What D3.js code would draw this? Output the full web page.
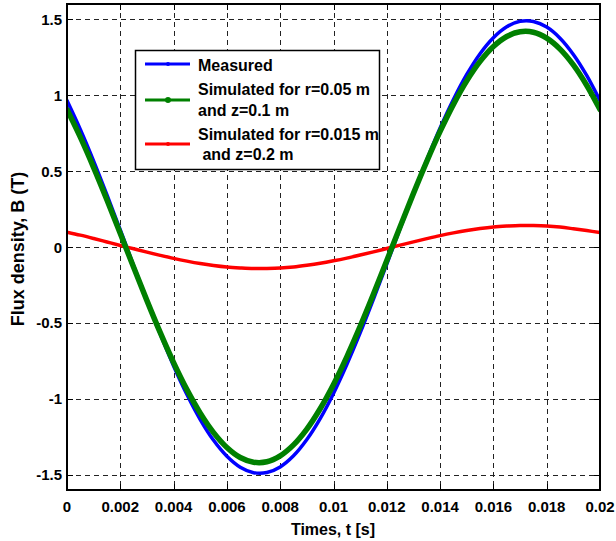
<!DOCTYPE html>
<html>
<head>
<meta charset="utf-8">
<script src="https://cdn.jsdelivr.net/npm/d3@7"></script>
<style>
  html, body { margin: 0; padding: 0; background: #fff; }
  svg { display: block; }
  text { font-family: "Liberation Sans", Arial, sans-serif; font-weight: bold; fill: #000; }
</style>
</head>
<body>
<svg id="chart" width="616" height="541"></svg>
<script>
// Sample times (s)
const times = [
  0, 0.0005, 0.001, 0.0015, 0.002, 0.0025, 0.003, 0.0035, 0.004, 0.0045,
  0.005, 0.0055, 0.006, 0.0065, 0.007, 0.0075, 0.008, 0.0085, 0.009, 0.0095,
  0.01, 0.0105, 0.011, 0.0115, 0.012, 0.0125, 0.013, 0.0135, 0.014, 0.0145,
  0.015, 0.0155, 0.016, 0.0165, 0.017, 0.0175, 0.018, 0.0185, 0.019, 0.0195, 0.02
];

// Measured flux density (T)
const measured = [
  0.964, 0.774, 0.566, 0.343, 0.112, -0.122, -0.352, -0.574, -0.783, -0.971,
  -1.136, -1.273, -1.378, -1.450, -1.486, -1.485, -1.448, -1.375, -1.268, -1.130,
  -0.964, -0.774, -0.566, -0.343, -0.112, 0.122, 0.352, 0.574, 0.783, 0.971,
  1.136, 1.273, 1.378, 1.450, 1.486, 1.485, 1.448, 1.375, 1.268, 1.130, 0.964
];

// Simulated, r = 0.05 m, z = 0.1 m
const simNear = [
  0.905, 0.723, 0.523, 0.310, 0.089, -0.134, -0.353, -0.564, -0.761, -0.939,
  -1.094, -1.222, -1.320, -1.386, -1.417, -1.414, -1.375, -1.303, -1.199, -1.065,
  -0.905, -0.723, -0.523, -0.310, -0.089, 0.134, 0.353, 0.564, 0.761, 0.939,
  1.094, 1.222, 1.320, 1.386, 1.417, 1.414, 1.375, 1.303, 1.199, 1.065, 0.905
];

// Simulated, r = 0.015 m, z = 0.2 m
const simFar = [
  0.098, 0.078, 0.056, 0.033, 0.010, -0.012, -0.034, -0.055, -0.075, -0.093,
  -0.109, -0.122, -0.132, -0.138, -0.142, -0.141, -0.138, -0.131, -0.120, -0.107,
  -0.091, -0.073, -0.053, -0.032, -0.010, 0.012, 0.034, 0.055, 0.075, 0.093,
  0.109, 0.122, 0.132, 0.138, 0.142, 0.141, 0.138, 0.131, 0.120, 0.108, 0.095
];

const xTicks = [0, 0.002, 0.004, 0.006, 0.008, 0.01, 0.012, 0.014, 0.016, 0.018, 0.02];
const xTickLabels = ["0", "0.002", "0.004", "0.006", "0.008", "0.01", "0.012", "0.014", "0.016", "0.018", "0.02"];
const yTicks = [-1.5, -1, -0.5, 0, 0.5, 1, 1.5];
const yTickLabels = ["-1.5", "-1", "-0.5", "0", "0.5", "1", "1.5"];

const legendLabels = [
  ["Measured"],
  ["Simulated for r=0.05 m", "and z=0.1 m"],
  ["Simulated for r=0.015 m", "\u00a0and z=0.2 m"]
];

// Plot geometry
const plotLeft = 67, plotRight = 600, plotTop = 4, plotBottom = 490;

const svg = d3.select("#chart");
const x = d3.scaleLinear().domain([0, 0.02]).range([plotLeft, plotRight]);
const y = d3.scaleLinear().domain([-1.6, 1.6]).range([plotBottom, plotTop]);

// Dashed grid
const grid = svg.append("g").attr("stroke", "#222").attr("stroke-width", 1)
  .attr("stroke-dasharray", "5,4").attr("fill", "none");
xTicks.slice(1, -1).forEach(v => {
  grid.append("line").attr("x1", Math.round(x(v)) + 0.5).attr("x2", Math.round(x(v)) + 0.5)
    .attr("y1", plotTop).attr("y2", plotBottom);
});
yTicks.forEach(v => {
  grid.append("line").attr("y1", Math.round(y(v)) + 0.5).attr("y2", Math.round(y(v)) + 0.5)
    .attr("x1", plotLeft).attr("x2", plotRight);
});

// Inward tick marks on all four sides
const tickLen = 6;
const ticks = svg.append("g").attr("stroke", "#000").attr("stroke-width", 1);
xTicks.forEach(v => {
  const px = Math.round(x(v)) + 0.5;
  ticks.append("line").attr("x1", px).attr("x2", px).attr("y1", plotBottom).attr("y2", plotBottom - tickLen);
  ticks.append("line").attr("x1", px).attr("x2", px).attr("y1", plotTop).attr("y2", plotTop + tickLen);
});
yTicks.forEach(v => {
  const py = Math.round(y(v)) + 0.5;
  ticks.append("line").attr("y1", py).attr("y2", py).attr("x1", plotLeft).attr("x2", plotLeft + tickLen);
  ticks.append("line").attr("y1", py).attr("y2", py).attr("x1", plotRight).attr("x2", plotRight - tickLen);
});

// Series
const line = d3.line().curve(d3.curveCatmullRom).x((d, i) => x(times[i])).y(d => y(d));
const series = [
  { values: measured, color: "#0000ff", width: 3.5 },
  { values: simFar, color: "#ff0000", width: 3.5 },
  { values: simNear, color: "#008000", width: 5.5 }
];
const clipId = "plot-clip";
svg.append("clipPath").attr("id", clipId).append("rect")
  .attr("x", plotLeft).attr("y", plotTop).attr("width", plotRight - plotLeft).attr("height", plotBottom - plotTop);
svg.append("g").attr("clip-path", `url(#${clipId})`)
  .selectAll("path").data(series).join("path")
  .attr("d", s => line(s.values))
  .attr("fill", "none")
  .attr("stroke", s => s.color)
  .attr("stroke-width", s => s.width)
  .attr("stroke-linejoin", "round")
  .attr("stroke-linecap", "round");

// Frame
svg.append("rect").attr("x", plotLeft).attr("y", plotTop)
  .attr("width", plotRight - plotLeft).attr("height", plotBottom - plotTop)
  .attr("fill", "none").attr("stroke", "#000").attr("stroke-width", 2);

// Tick labels
svg.append("g").selectAll("text").data(xTicks).join("text")
  .attr("x", d => x(d)).attr("y", 512)
  .attr("text-anchor", "middle").attr("font-size", 15)
  .text((d, i) => xTickLabels[i]);
svg.append("g").selectAll("text").data(yTicks).join("text")
  .attr("x", 62).attr("y", d => y(d) + 5.5)
  .attr("text-anchor", "end").attr("font-size", 15)
  .text((d, i) => yTickLabels[i]);

// Axis titles
svg.append("text").attr("x", 333).attr("y", 535)
  .attr("text-anchor", "middle").attr("font-size", 16)
  .text("Times, t [s]");
svg.append("text").attr("transform", "translate(24,249) rotate(-90)")
  .attr("text-anchor", "middle").attr("font-size", 18)
  .text("Flux density, B (T)");

// Legend
const legend = svg.append("g");
legend.append("rect").attr("x", 135.5).attr("y", 50.5).attr("width", 244).attr("height", 119)
  .attr("fill", "#fff").attr("stroke", "#000").attr("stroke-width", 1.5);
const legendRows = [
  { s: series[0], ly: 64, ty: [70.5], r: 2 },
  { s: series[2], ly: 100, ty: [95, 116], r: 3 },
  { s: series[1], ly: 144, ty: [140, 160], r: 2 }
];
legendRows.forEach((row, i) => {
  legend.append("line").attr("x1", 145).attr("x2", 190).attr("y1", row.ly).attr("y2", row.ly)
    .attr("stroke", row.s.color).attr("stroke-width", 3);
  legend.append("circle").attr("cx", 168).attr("cy", row.ly).attr("r", row.r)
    .attr("fill", row.s.color);
  legendLabels[i].forEach((txt, j) => {
    legend.append("text").attr("x", 198).attr("y", row.ty[j]).attr("font-size", 16).text(txt);
  });
});
</script>
</body>
</html>
